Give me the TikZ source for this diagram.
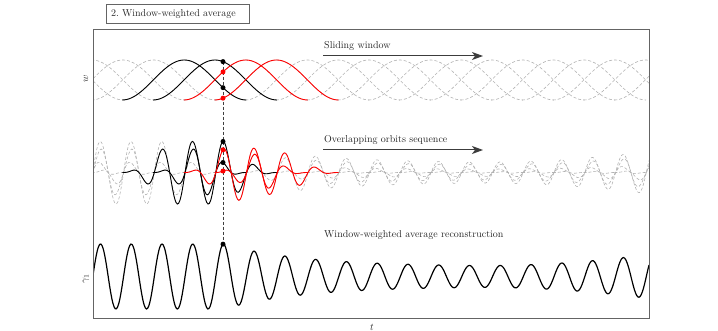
\documentclass[tikz,border=0pt]{standalone}
\usetikzlibrary{arrows.meta}
\definecolor{dgray}{RGB}{178,178,178}
\definecolor{fgray}{RGB}{100,100,100}
\definecolor{agray}{RGB}{60,60,60}
\tikzset{
  declare function={
    env(\x)=(\x<224) ? 32.5 : ((\x<480) ? (10+22.5*exp(-(\x-224)/80)) : (10.9+10*((\x-480)/160)*((\x-480)/160)));
    sig(\x)=env(\x)*cos(((\x-100.5)/30.75)*360);
    hann(\x,\m)=cos(((\x-\m)/124)*180)*cos(((\x-\m)/124)*180);
  },
  ghost/.style={dgray, dashed, dash pattern=on 3pt off 2pt, line width=0.6pt},
  winblack/.style={black, line width=0.9pt},
  winred/.style={red, line width=0.9pt},
  recon/.style={black, line width=1.2pt},
  bdot/.style={circle, fill=black, inner sep=0pt, minimum size=5pt},
  rdot/.style={circle, fill=red, inner sep=0pt, minimum size=5pt},
  guide/.style={black!75, dashed, dash pattern=on 3pt off 2pt, line width=0.6pt},
  arr/.style={agray, line width=1pt, -{Stealth[length=11pt,width=8pt,inset=3pt]}},
  lbl/.style={text=black!85, font=\normalsize, inner sep=1pt},
}
\begin{document}
\begin{tikzpicture}[x=1pt,y=-1pt]
\useasboundingbox (0,0) rectangle (718,331);

% title
\node[draw=fgray, line width=0.6pt, anchor=west, inner xsep=5pt, text width=133pt, align=left, minimum height=19pt, text=black!85] (title) at (105.7,14) {2.\ Window-weighted average};

\begin{scope}
\clip (93,29) rectangle (649,318);
% ghost windows and orbits
\foreach \k in {-1,...,19} {
  \pgfmathsetmacro\cc{92+30.75*\k}
  \pgfmathsetmacro\ca{\cc-62}
  \pgfmathsetmacro\cb{\cc+62}
  \draw[ghost] plot[domain=\ca:\cb, samples=50, smooth] (\x,{100-40*hann(\x,\cc)});
  \draw[ghost] plot[domain=\ca:\cb, samples=90, smooth] (\x,{172.5-hann(\x,\cc)*sig(\x)});
}
% highlighted windows
\foreach \k/\st in {3/winblack,4/winblack,5/winred,6/winred} {
  \pgfmathsetmacro\cc{92+30.75*\k}
  \pgfmathsetmacro\ca{\cc-62}
  \pgfmathsetmacro\cb{\cc+62}
  \draw[\st] plot[domain=\ca:\cb, samples=60, smooth] (\x,{100-40*hann(\x,\cc)});
  \draw[\st] plot[domain=\ca:\cb, samples=100, smooth] (\x,{172.5-hann(\x,\cc)*sig(\x)});
}
% reconstruction
\draw[recon] plot[domain=93:649, samples=500, smooth] (\x,{276.5-sig(\x)});
\end{scope}

% frame
\draw[fgray, line width=0.7pt] (93,29) rectangle (649,318);

% probe points
\coordinate (w1) at (223,{100-40*hann(223,215)});
\coordinate (w2) at (223,{100-40*hann(223,245.75)});
\coordinate (w3) at (223,{100-40*hann(223,184.25)});
\coordinate (w4) at (223,{100-40*hann(223,276.5)});
\coordinate (o1) at (223,{172.5-hann(223,215)*sig(223)});
\coordinate (o2) at (223,{172.5-hann(223,245.75)*sig(223)});
\coordinate (o3) at (223,{172.5-hann(223,184.25)*sig(223)});
\coordinate (o4) at (223,{172.5-hann(223,276.5)*sig(223)});
\coordinate (r1) at (223,{276.5-sig(223)});
\draw[guide] (w1) -- (r1);
\node[bdot] (dw1) at (w1) {};
\node[rdot] (dw2) at (w2) {};
\node[bdot] (dw3) at (w3) {};
\node[rdot] (dw4) at (w4) {};
\node[bdot] (do1) at (o1) {};
\node[rdot] (do2) at (o2) {};
\node[bdot] (do3) at (o3) {};
\node[rdot] (do4) at (o4) {};
\node[bdot] (dr1) at (r1) {};

% annotations
\node[lbl, anchor=west] (t1) at (323,46.5) {Sliding window};
\coordinate (a1s) at (323,56);
\coordinate (a1e) at (483,56);
\draw[arr] (a1s) -- (a1e);
\node[lbl, anchor=west] (t2) at (323,140) {Overlapping orbits sequence};
\coordinate (a2s) at (323,150);
\coordinate (a2e) at (483,150);
\draw[arr] (a2s) -- (a2e);
\node[lbl, anchor=west] (t3) at (323,235) {Window-weighted average reconstruction};

% axis labels
\node[lbl, rotate=90] (lw) at (86,79) {$w$};
\node[lbl, rotate=90] (lg) at (86,279) {$\gamma_1$};
\node[lbl] (lt) at (372,327) {$t$};
\end{tikzpicture}
\end{document}
